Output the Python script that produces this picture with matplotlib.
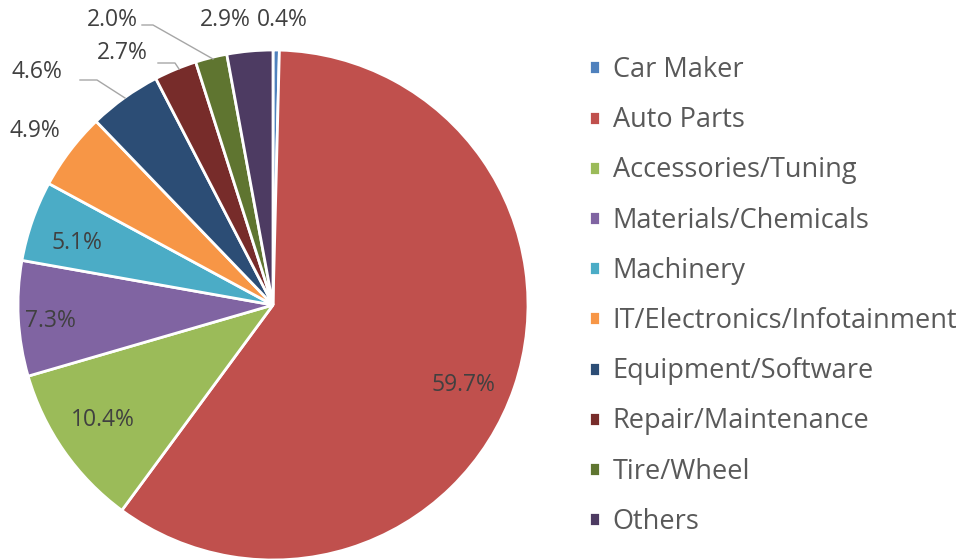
import numpy as np
import matplotlib
matplotlib.use('Agg')
import matplotlib.pyplot as plt

categories = ['Car Maker', 'Auto Parts', 'Accessories/Tuning', 'Materials/Chemicals',
              'Machinery', 'IT/Electronics/Infotainment', 'Equipment/Software',
              'Repair/Maintenance', 'Tire/Wheel', 'Others']
shares = [0.4, 59.7, 10.4, 7.3, 5.1, 4.9, 4.6, 2.7, 2.0, 2.9]
colors = ['#4F81BD', '#C0504D', '#9BBB59', '#8064A2', '#4BACC6',
          '#F79646', '#2C4D75', '#772C2A', '#5F7530', '#4D3B62']

# label positions in pixels (x, y from top)
label_px = [(282, 20), (463, 385), (103, 420), (50, 321), (77, 243),
            (35, 131), (37, 72), (122, 53), (112, 20), (225, 20)]
# leader lines in pixels for the small slices
leaders = {6: [(80, 80), (97, 80), (125, 98)],
           7: [(158, 63), (175, 63), (179, 69)],
           8: [(142, 25), (153, 25), (213, 59)]}

plt.rcParams['font.family'] = ['Open Sans', 'DejaVu Sans']

W, H = 964, 560
fig = plt.figure(figsize=(W / 100, H / 100), dpi=100)
cx, cy, r = 273, 305, 255
ax = fig.add_axes([(cx - r) / W, (H - cy - r) / H, 2 * r / W, 2 * r / H])
wedges, _ = ax.pie(shares, colors=colors, startangle=90, counterclock=False,
                   wedgeprops=dict(edgecolor='white', linewidth=2))
ax.set_xlim(-1, 1)
ax.set_ylim(-1, 1)
ax.set_aspect('equal')
ax.axis('off')


def to_data(px, py):
    return (px - cx) / r, (cy - py) / r


for i, v in enumerate(shares):
    x, y = to_data(*label_px[i])
    ax.text(x, y, '%.1f%%' % v, ha='center', va='center', fontsize=16.5,
            color='#404040', clip_on=False)
for i, pts in leaders.items():
    xs, ys = zip(*[to_data(px, py) for px, py in pts])
    ax.plot(xs, ys, color='#A6A6A6', lw=1, clip_on=False)

leg = fig.legend(wedges, categories, loc='upper left', bbox_to_anchor=(589 / W, 1 - 56 / H),
                 frameon=False, fontsize=19.5, labelspacing=0.82, handlelength=0.42,
                 handleheight=0.42, handletextpad=0.45, borderaxespad=0, borderpad=0)
for t in leg.get_texts():
    t.set_color('#595959')

fig.savefig('out.png', dpi=100)
